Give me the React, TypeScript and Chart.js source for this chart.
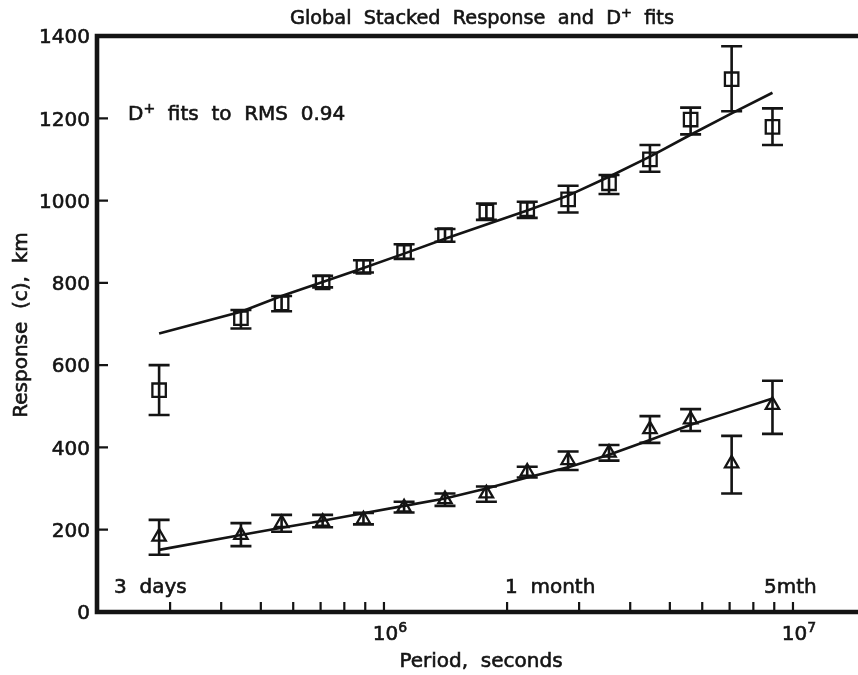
import React, { useEffect, useRef } from "react";
import { Chart, registerables } from "chart.js";

Chart.register(...registerables);

// ---- data ----
const periods = [2.82e5, 4.47e5, 5.62e5, 7.08e5, 8.91e5, 1.12e6, 1.41e6, 1.78e6, 2.24e6, 2.82e6, 3.55e6, 4.47e6, 5.62e6, 7.08e6, 8.91e6];

const upperValues = [539, 714, 750, 801, 839, 875, 916, 973, 979, 1003, 1042, 1100, 1197, 1295, 1179];
const upperLow = [479, 689, 731, 789, 825, 858, 900, 953, 958, 971, 1016, 1070, 1161, 1217, 1135];
const upperHigh = [600, 734, 768, 817, 855, 894, 931, 993, 997, 1036, 1062, 1135, 1226, 1375, 1224];
const upperFit = [677, 730, 768, 802, 836, 871, 907, 942, 976, 1012, 1058, 1107, 1160, 1212, 1262];

const lowerValues = [183, 187, 216, 219, 225, 254, 274, 288, 341, 369, 387, 444, 468, 361, 503];
const lowerLow = [139, 160, 195, 206, 213, 242, 258, 268, 327, 345, 368, 411, 440, 288, 433];
const lowerHigh = [224, 216, 236, 236, 241, 268, 288, 305, 353, 390, 406, 476, 493, 428, 562];
const lowerFit = [151, 187, 205, 222, 240, 258, 276, 300, 327, 352, 382, 418, 455, 487, 519];

const yTickValues = [0, 200, 400, 600, 800, 1000, 1200, 1400];
const xTickValues = [3e5, 4e5, 5e5, 6e5, 7e5, 8e5, 9e5, 1e6, 2e6, 3e6, 4e6, 5e6, 6e6, 7e6, 8e6, 9e6, 1e7];
const xLabelValues = [1e6, 1e7];
const xLabelExponents = ["6", "7"];

const periodLandmarks = ["3  days", "1  month", "5mth"];
const titleText = ["Global  Stacked  Response  and  D", "+", "  fits"];
const noteText = ["D", "+", "  fits  to  RMS  0.94"];
const xTitle = "Period,  seconds";
const yTitle = "Response  (c),  km";

const INK = "#141414";
const FONT = '"DejaVu Sans", sans-serif';
const TEXT_STROKE = 0.6;

function fillBold(ctx: CanvasRenderingContext2D, t: string, x: number, y: number) {
  ctx.fillText(t, x, y);
  ctx.lineWidth = TEXT_STROKE;
  ctx.strokeText(t, x, y);
}

function drawPieces(ctx: CanvasRenderingContext2D, pieces: [string, number, number][], x: number, y: number, align: "left" | "center") {
  let total = 0;
  const widths = pieces.map(([t, s]) => {
    ctx.font = `${s}px ${FONT}`;
    const w = ctx.measureText(t).width;
    total += w;
    return w;
  });
  let cx = align === "center" ? x - total / 2 : x;
  ctx.textAlign = "left";
  ctx.textBaseline = "alphabetic";
  pieces.forEach(([t, s, dy], i) => {
    ctx.font = `${s}px ${FONT}`;
    fillBold(ctx, t, cx, y + dy);
    cx += widths[i];
  });
}

const decorPlugin = {
  id: "decor",
  afterDatasetsDraw(chart: any) {
    const { ctx, scales } = chart;
    const x = scales.x;
    const y = scales.y;
    ctx.save();
    ctx.strokeStyle = INK;
    ctx.lineWidth = 2.6;
    ctx.lineCap = "butt";
    const cap = 10.5;
    const bars = (lows: number[], highs: number[]) => {
      periods.forEach((p, i) => {
        const px = x.getPixelForValue(p);
        const pl = y.getPixelForValue(lows[i]);
        const ph = y.getPixelForValue(highs[i]);
        ctx.beginPath();
        ctx.moveTo(px, pl);
        ctx.lineTo(px, ph);
        ctx.moveTo(px - cap, pl);
        ctx.lineTo(px + cap, pl);
        ctx.moveTo(px - cap, ph);
        ctx.lineTo(px + cap, ph);
        ctx.stroke();
      });
    };
    bars(upperLow, upperHigh);
    bars(lowerLow, lowerHigh);
    ctx.restore();
  },
  afterDraw(chart: any) {
    const { ctx, chartArea: a, scales } = chart;
    const x = scales.x;
    const y = scales.y;
    ctx.save();
    ctx.strokeStyle = INK;
    ctx.fillStyle = INK;

    // axis frame: left, bottom, top
    ctx.lineWidth = 4.6;
    ctx.lineCap = "butt";
    ctx.beginPath();
    ctx.moveTo(a.left, a.top - 2.3);
    ctx.lineTo(a.left, a.bottom + 2.3);
    ctx.moveTo(a.left - 2.3, a.bottom);
    ctx.lineTo(a.right, a.bottom);
    ctx.moveTo(a.left - 2.3, a.top);
    ctx.lineTo(a.right, a.top);
    ctx.stroke();

    // inward ticks
    ctx.lineWidth = 2.2;
    ctx.beginPath();
    yTickValues.forEach((v) => {
      if (v === 0 || v === 1400) return;
      const py = y.getPixelForValue(v);
      ctx.moveTo(a.left, py);
      ctx.lineTo(a.left + 11, py);
    });
    xTickValues.forEach((v) => {
      const px = x.getPixelForValue(v);
      ctx.moveTo(px, a.bottom);
      ctx.lineTo(px, a.bottom - 10);
    });
    ctx.stroke();

    // y tick labels
    ctx.font = `20px ${FONT}`;
    ctx.textAlign = "right";
    ctx.textBaseline = "alphabetic";
    yTickValues.forEach((v) => {
      const py = y.getPixelForValue(v);
      fillBold(ctx, String(v), a.left - 7, py + 7.3);
    });

    // x tick labels 10^n
    xLabelValues.forEach((v, i) => {
      const px = x.getPixelForValue(v);
      drawPieces(ctx, [["10", 20, 0], [xLabelExponents[i], 14, -8]], px + 6, 640, "center");
    });

    // period landmarks
    ctx.font = `20px ${FONT}`;
    ctx.textAlign = "left";
    fillBold(ctx, periodLandmarks[0], 114, 593);
    fillBold(ctx, periodLandmarks[1], 505, 593);
    fillBold(ctx, periodLandmarks[2], 764, 593);

    // title
    drawPieces(ctx, [[titleText[0], 19.3, 0], [titleText[1], 13, -7], [titleText[2], 19.3, 0]], 482, 24, "center");

    // note
    drawPieces(ctx, [[noteText[0], 20, 0], [noteText[1], 14, -7], [noteText[2], 20, 0]], 128, 119.5, "left");

    // axis titles
    ctx.font = `20px ${FONT}`;
    ctx.textAlign = "center";
    ctx.textBaseline = "alphabetic";
    fillBold(ctx, xTitle, 481, 666.5);
    ctx.save();
    ctx.translate(26.5, 325);
    ctx.rotate(-Math.PI / 2);
    fillBold(ctx, yTitle, 0, 0);
    ctx.restore();

    ctx.restore();
  },
};

export default function App() {
  const ref = useRef<HTMLCanvasElement | null>(null);

  useEffect(() => {
    if (!ref.current) return;
    const pts = (vals: number[]) => periods.map((p, i) => ({ x: p, y: vals[i] }));
    const chart = new Chart(ref.current, {
      type: "scatter",
      data: {
        datasets: [
          {
            type: "line",
            label: "upper fit",
            data: pts(upperFit),
            borderColor: INK,
            borderWidth: 2.6,
            pointRadius: 0,
            tension: 0,
            fill: false,
          },
          {
            type: "line",
            label: "lower fit",
            data: pts(lowerFit),
            borderColor: INK,
            borderWidth: 2.6,
            pointRadius: 0,
            tension: 0,
            fill: false,
          },
          {
            label: "upper",
            data: pts(upperValues),
            pointStyle: "rect",
            pointRadius: 9.5,
            backgroundColor: "#ffffff",
            borderColor: INK,
            borderWidth: 2.3,
          },
          {
            label: "lower",
            data: pts(lowerValues),
            pointStyle: "triangle",
            pointRadius: 7.7,
            backgroundColor: "#ffffff",
            borderColor: INK,
            borderWidth: 2.3,
          },
        ],
      } as any,
      options: {
        animation: false,
        responsive: false,
        devicePixelRatio: 1,
        layout: { padding: { top: 36, left: 0, right: 0, bottom: 0 }, autoPadding: false } as any,
        plugins: {
          legend: { display: false },
          title: { display: false },
          tooltip: { enabled: false },
        },
        scales: {
          x: {
            type: "logarithmic",
            min: 1.988e5,
            max: 1.442e7,
            grid: { display: false },
            border: { display: false },
            ticks: { display: false },
            afterFit: (s: any) => {
              s.height = 63;
            },
          },
          y: {
            type: "linear",
            min: 0,
            max: 1400,
            grid: { display: false },
            border: { display: false },
            ticks: { display: false },
            afterFit: (s: any) => {
              s.width = 97;
            },
          },
        },
      } as any,
      plugins: [decorPlugin],
    });
    return () => chart.destroy();
  }, []);

  return (
    <div style={{ position: "fixed", left: 0, top: 0, width: 858, height: 675, background: "#fff" }}>
      <canvas ref={ref} width={858} height={675} style={{ width: 858, height: 675, display: "block" }} />
    </div>
  );
}
